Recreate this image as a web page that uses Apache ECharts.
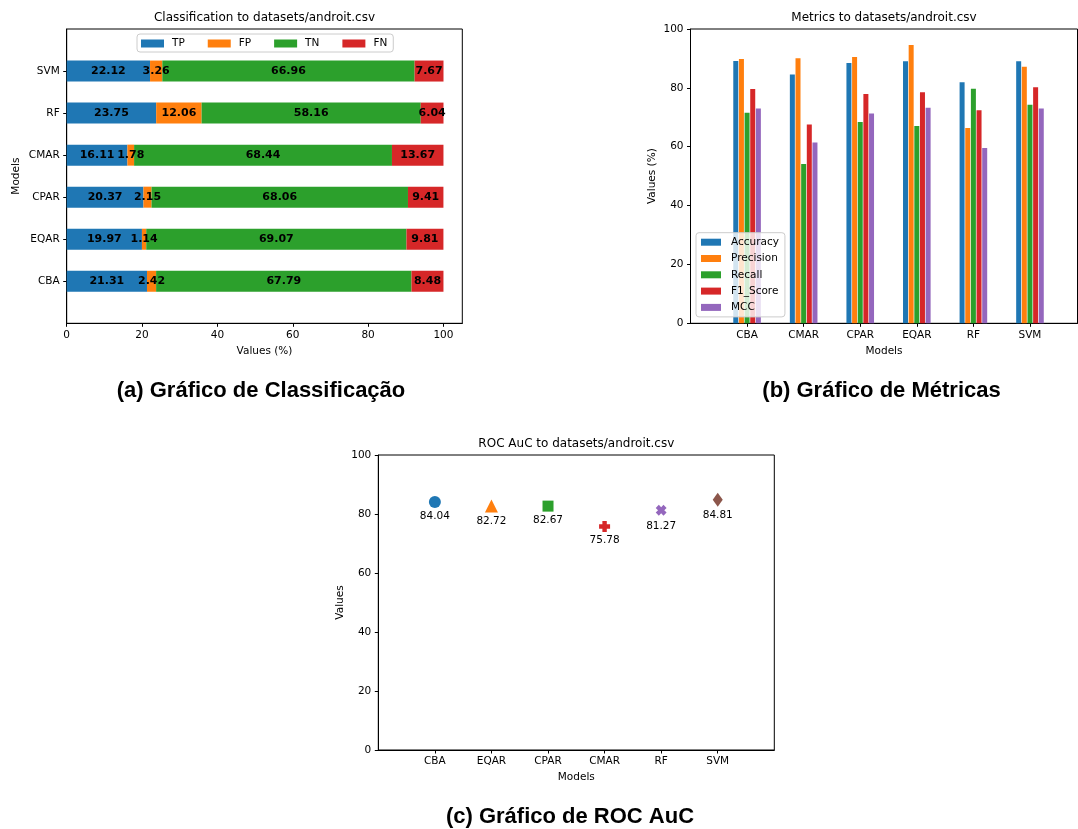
<!DOCTYPE html>
<html><head><meta charset="utf-8">
<script src="https://cdn.jsdelivr.net/npm/echarts@6/dist/echarts.min.js"></script>
<style>html,body{margin:0;padding:0;background:#fff}#c{width:1078px;height:829px}</style>
</head><body><div id="c"></div>
<script>
// ---- (a) Classification ----
const classModels = ['CBA','EQAR','CPAR','CMAR','RF','SVM'];
const tpValues = [21.31,19.97,20.37,16.11,23.75,22.12];
const fpValues = [2.42,1.14,2.15,1.78,12.06,3.26];
const tnValues = [67.79,69.07,68.06,68.44,58.16,66.96];
const fnValues = [8.48,9.81,9.41,13.67,6.04,7.67];
const classNames = ['TP','FP','TN','FN'];

// ---- (b) Metrics ----
const metricModels = ['CBA','CMAR','CPAR','EQAR','RF','SVM'];
const accuracyValues = [89.10,84.55,88.43,89.04,81.91,89.08];
const precisionValues = [89.80,90.05,90.45,94.60,66.32,87.16];
const recallValues = [71.53,54.10,68.40,67.06,79.72,74.25];
const f1Values = [79.63,67.59,77.89,78.48,72.41,80.19];
const mccValues = [73.0,61.4,71.3,73.2,59.6,73.0];
const metricNames = ['Accuracy','Precision','Recall','F1_Score','MCC'];

// ---- (c) ROC AuC ----
const rocModels = ['CBA','EQAR','CPAR','CMAR','RF','SVM'];
const rocValues = [84.04,82.72,82.67,75.78,81.27,84.81];

const percentTicks = [0,20,40,60,80,100];

const C = ['#1f77b4','#ff7f0e','#2ca02c','#d62728','#9467bd','#8c564b'];
const FF = 'DejaVu Sans';
const FS = 10.5;
const plusPath = 'path://M-1,-2.5L1,-2.5L1,-1L2.5,-1L2.5,1L1,1L1,2.5L-1,2.5L-1,1L-2.5,1L-2.5,-1L-1,-1Z';
const rocSymbols = ['circle','triangle','rect',plusPath,plusPath,'path://M0,-1L0.6,0L0,1L-0.6,0Z'];
const rocSizes = [12,13,11,11,11,[10,14]];
const rocRotate = [0,0,0,0,45,0];

const padCats = arr => ['', ...arr, ''];
const tickFilter = (i, v) => v !== '';
const lbl = {color:'#000', fontSize:FS, fontFamily:FF};
const tick = {show:true, length:3.5, lineStyle:{color:'#000', width:1}};
const axLine = {show:true, onZero:false, lineStyle:{color:'#000', width:1}};
const nameStyle = {color:'#000', fontSize:FS, fontFamily:FF};

const chart = echarts.init(document.getElementById('c'), null, {renderer:'canvas'});

const classSeries = [tpValues, fpValues, tnValues, fnValues].map((vals, k) => ({
  type:'bar', name:classNames[k], stack:'cls', xAxisIndex:0, yAxisIndex:0,
  barWidth:21, itemStyle:{color:C[k]},
  label:{show:true, position:'inside', color:'#000', fontWeight:'bold', fontSize:11, fontFamily:FF,
         textBorderWidth:0, formatter:p => Number(p.value[0]).toFixed(2)},
  data: vals.map((v, i) => [v, classModels[i]])
}));

const metricSeries = [accuracyValues, precisionValues, recallValues, f1Values, mccValues].map((vals, k) => ({
  type:'bar', name:metricNames[k], xAxisIndex:1, yAxisIndex:1,
  barWidth:5, barGap:'13%', itemStyle:{color:C[k]},
  data: vals.map((v, i) => [i, v])
}));

const rocSeries = rocModels.map((m, i) => ({
  type:'scatter', name:m, xAxisIndex:2, yAxisIndex:2,
  symbol:rocSymbols[i], symbolSize:rocSizes[i], symbolRotate:rocRotate[i],
  itemStyle:{color:C[i], opacity:1},
  label:{show:true, position:'bottom', distance:3, color:'#000', fontSize:FS, fontFamily:FF,
         formatter:p => Number(p.value[1]).toFixed(2)},
  data:[[m, rocValues[i]]]
}));

const option = {
  animation:false,
  backgroundColor:'#fff',
  textStyle:{fontFamily:FF},
  grid:[
    {left:66.7, top:29, width:395.6, height:294.3, show:true, borderColor:'#000', borderWidth:1},
    {left:690.5, top:29, width:387, height:294.3, show:true, borderColor:'#000', borderWidth:1},
    {left:378.3, top:455, width:396, height:295, show:true, borderColor:'#000', borderWidth:1}
  ],
  xAxis:[
    {gridIndex:0, type:'value', min:0, max:105, interval:20,
     axisLine:axLine, axisTick:tick, splitLine:{show:false},
     axisLabel:Object.assign({margin:6, showMaxLabel:false,
        formatter:v => percentTicks.includes(v) ? String(v) : ''}, lbl),
     name:'Values (%)', nameLocation:'middle', nameGap:22, nameTextStyle:nameStyle},
    {gridIndex:1, type:'value', min:-1, max:5.84, interval:1,
     axisLine:axLine, axisTick:tick, splitLine:{show:false},
     axisLabel:Object.assign({margin:6, showMinLabel:false, showMaxLabel:false,
        formatter:v => (Number.isInteger(v) && v >= 0 && v < metricModels.length) ? metricModels[v] : ''}, lbl),
     name:'Models', nameLocation:'middle', nameGap:22, nameTextStyle:nameStyle},
    {gridIndex:2, type:'category', boundaryGap:false, data:padCats(rocModels),
     axisLine:axLine, axisTick:Object.assign({interval:tickFilter}, tick), splitLine:{show:false},
     axisLabel:Object.assign({margin:6, interval:0}, lbl),
     name:'Models', nameLocation:'middle', nameGap:22, nameTextStyle:nameStyle}
  ],
  yAxis:[
    {gridIndex:0, type:'category', boundaryGap:false, data:padCats(classModels),
     axisLine:axLine, axisTick:Object.assign({interval:tickFilter}, tick), splitLine:{show:false},
     axisLabel:Object.assign({margin:7, interval:0}, lbl),
     name:'Models', nameLocation:'middle', nameGap:45, nameTextStyle:nameStyle},
    {gridIndex:1, type:'value', min:0, max:100, interval:20,
     axisLine:axLine, axisTick:tick, splitLine:{show:false},
     axisLabel:Object.assign({margin:7}, lbl),
     name:'Values (%)', nameLocation:'middle', nameGap:33, nameTextStyle:nameStyle},
    {gridIndex:2, type:'value', min:0, max:100, interval:20,
     axisLine:axLine, axisTick:tick, splitLine:{show:false},
     axisLabel:Object.assign({margin:7}, lbl),
     name:'Values', nameLocation:'middle', nameGap:33, nameTextStyle:nameStyle}
  ],
  legend:[
    {data:classNames, left:137, top:34, orient:'horizontal', icon:'rect',
     itemWidth:23, itemHeight:8, itemGap:23, padding:[4,6,3,4],
     textStyle:{color:'#000', fontSize:FS, fontFamily:FF, padding:[0,0,0,3]},
     backgroundColor:'#fff', borderColor:'#cccccc', borderWidth:1, borderRadius:3,
     selectedMode:false},
    {data:metricNames, left:696, top:232.7, orient:'vertical', icon:'rect',
     itemWidth:20, itemHeight:7, itemGap:5.3, padding:[4,6,4,5],
     textStyle:{color:'#000', fontSize:FS, fontFamily:FF, padding:[0,0,0,5]},
     backgroundColor:'rgba(255,255,255,0.8)', borderColor:'#cccccc', borderWidth:1, borderRadius:3,
     selectedMode:false}
  ],
  graphic:[
    {type:'text', x:264.5, y:18, style:{text:'Classification to datasets/androit.csv', textAlign:'center', textVerticalAlign:'middle', fontSize:12, fontFamily:FF, fill:'#000'}},
    {type:'text', x:884, y:18, style:{text:'Metrics to datasets/androit.csv', textAlign:'center', textVerticalAlign:'middle', fontSize:12, fontFamily:FF, fill:'#000'}},
    {type:'text', x:576.3, y:444, style:{text:'ROC AuC to datasets/androit.csv', textAlign:'center', textVerticalAlign:'middle', fontSize:12, fontFamily:FF, fill:'#000'}},
    {type:'text', x:261, y:391, style:{text:'(a) Gráfico de Classificação', textAlign:'center', textVerticalAlign:'middle', fontSize:22, fontWeight:'bold', fontFamily:'Liberation Sans', fill:'#000'}},
    {type:'text', x:881.5, y:391, style:{text:'(b) Gráfico de Métricas', textAlign:'center', textVerticalAlign:'middle', fontSize:22, fontWeight:'bold', fontFamily:'Liberation Sans', fill:'#000'}},
    {type:'text', x:570, y:817, style:{text:'(c) Gráfico de ROC AuC', textAlign:'center', textVerticalAlign:'middle', fontSize:22, fontWeight:'bold', fontFamily:'Liberation Sans', fill:'#000'}}
  ],
  series:[...classSeries, ...metricSeries, ...rocSeries]
};
chart.setOption(option);
</script></body></html>
